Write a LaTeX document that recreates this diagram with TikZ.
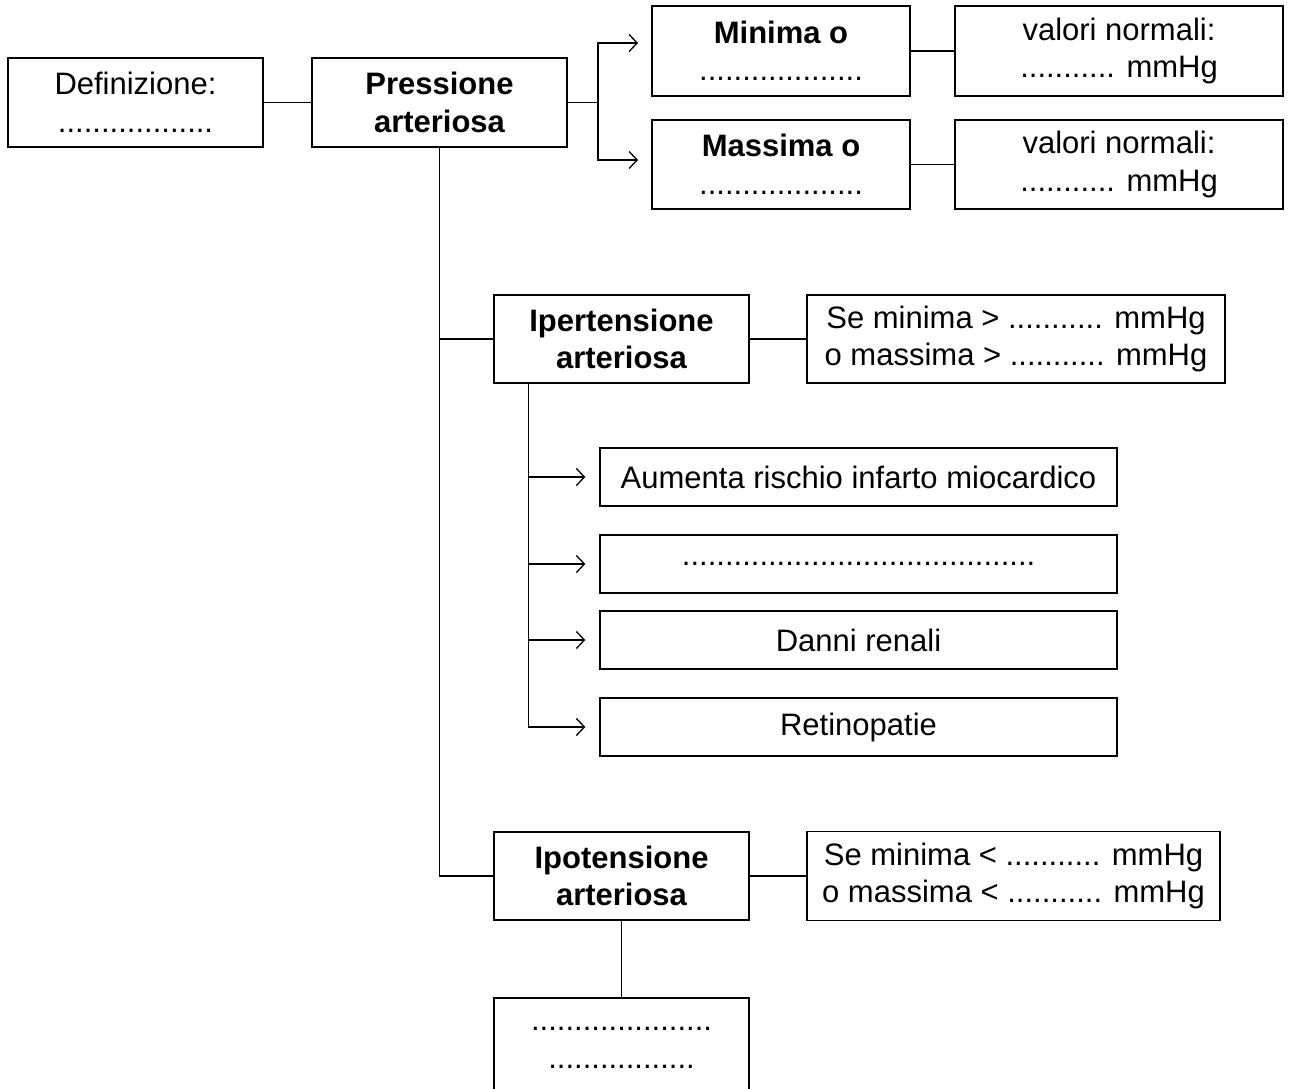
\documentclass[tikz,border=0pt]{standalone}
\usepackage{fontspec}
\setmainfont{Liberation Sans}
\usetikzlibrary{arrows.meta}
\begin{document}
\begin{tikzpicture}[x=1pt,y=-1pt,
  box/.style={draw=black, line width=1.4pt, inner sep=0pt, align=center,
    font=\fontsize{31}{37.5}\selectfont},
  bigbox/.style={box, minimum width=255pt, minimum height=89pt},
  effbox/.style={box, minimum width=517pt, minimum height=58pt},
  conn/.style={draw=black, line width=1.4pt},
  arr/.style={conn, -{Straight Barb[length=8pt,width=17pt,line width=1.3pt]}, shorten >=14pt}
]
\useasboundingbox (0,0) rectangle (1303,1088);

\node[bigbox] (def) at (135.5,102.5) {Definizione:\\ ..................};
\node[bigbox] (pa) at (439.5,102.5) {\bfseries Pressione\\ \bfseries arteriosa};
\node[box, minimum width=258pt, minimum height=90pt] (min) at (781,51) {\bfseries Minima o\\ ...................};
\node[box, minimum width=258pt, minimum height=89pt] (mas) at (781,164.5) {\bfseries Massima o\\ ...................};
\node[box, minimum width=328pt, minimum height=90pt] (vn1) at (1119,51) {valori normali:\\ ........... mmHg};
\node[box, minimum width=328pt, minimum height=89pt] (vn2) at (1119,164.5) {valori normali:\\ ........... mmHg};

\node[bigbox, minimum height=88pt] (iper) at (621.5,339) {\bfseries Ipertensione\\ \bfseries arteriosa};
\node[box, minimum width=418pt, minimum height=88pt] (sei) at (1016,339) {Se minima \textgreater{} ........... mmHg\\ o massima \textgreater{} ........... mmHg};

\node[effbox] (e1) at (858.5,477) {Aumenta rischio infarto miocardico};
\node[effbox] (e2) at (858.5,564) {.........................................};
\node[effbox] (e3) at (858.5,640) {Danni renali};
\node[effbox] (e4) at (858.5,727) {Retinopatie};

\node[bigbox, minimum height=88pt] (ipo) at (621.5,876) {\bfseries Ipotensione\\ \bfseries arteriosa};
\node[box, minimum width=413pt, minimum height=89pt] (seo) at (1013.5,876) {Se minima \textless{} ........... mmHg\\ o massima \textless{} ........... mmHg};

\node[bigbox, minimum height=100pt] (bot) at (621.5,1048) {.....................\\ .................};

% connectors
\draw[conn] (def.east) -- (pa.west);
\coordinate (jn) at (598,102.5);
\coordinate (a1) at (652,43);
\coordinate (a2) at (652,160);
\draw[conn] (pa.east) -- (jn);
\draw[arr] (jn) |- (a1);
\draw[arr] (jn) |- (a2);
\draw[conn] (min.east) -- (vn1.west);
\draw[conn] (mas.east) -- (vn2.west);

\draw[conn] (pa.south) |- (ipo.west);
\draw[conn] (pa.south |- iper.west) -- (iper.west);
\draw[conn] (iper.east) -- (sei.west);

\coordinate (ib) at ([xshift=35pt]iper.south west);
\draw[arr] (ib) |- (e4.west);
\draw[arr] (ib |- e1.west) -- (e1.west);
\draw[arr] (ib |- e2.west) -- (e2.west);
\draw[arr] (ib |- e3.west) -- (e3.west);

\draw[conn] (ipo.east) -- (seo.west);
\draw[conn] (ipo.south) -- (bot.north);
\end{tikzpicture}
\end{document}
